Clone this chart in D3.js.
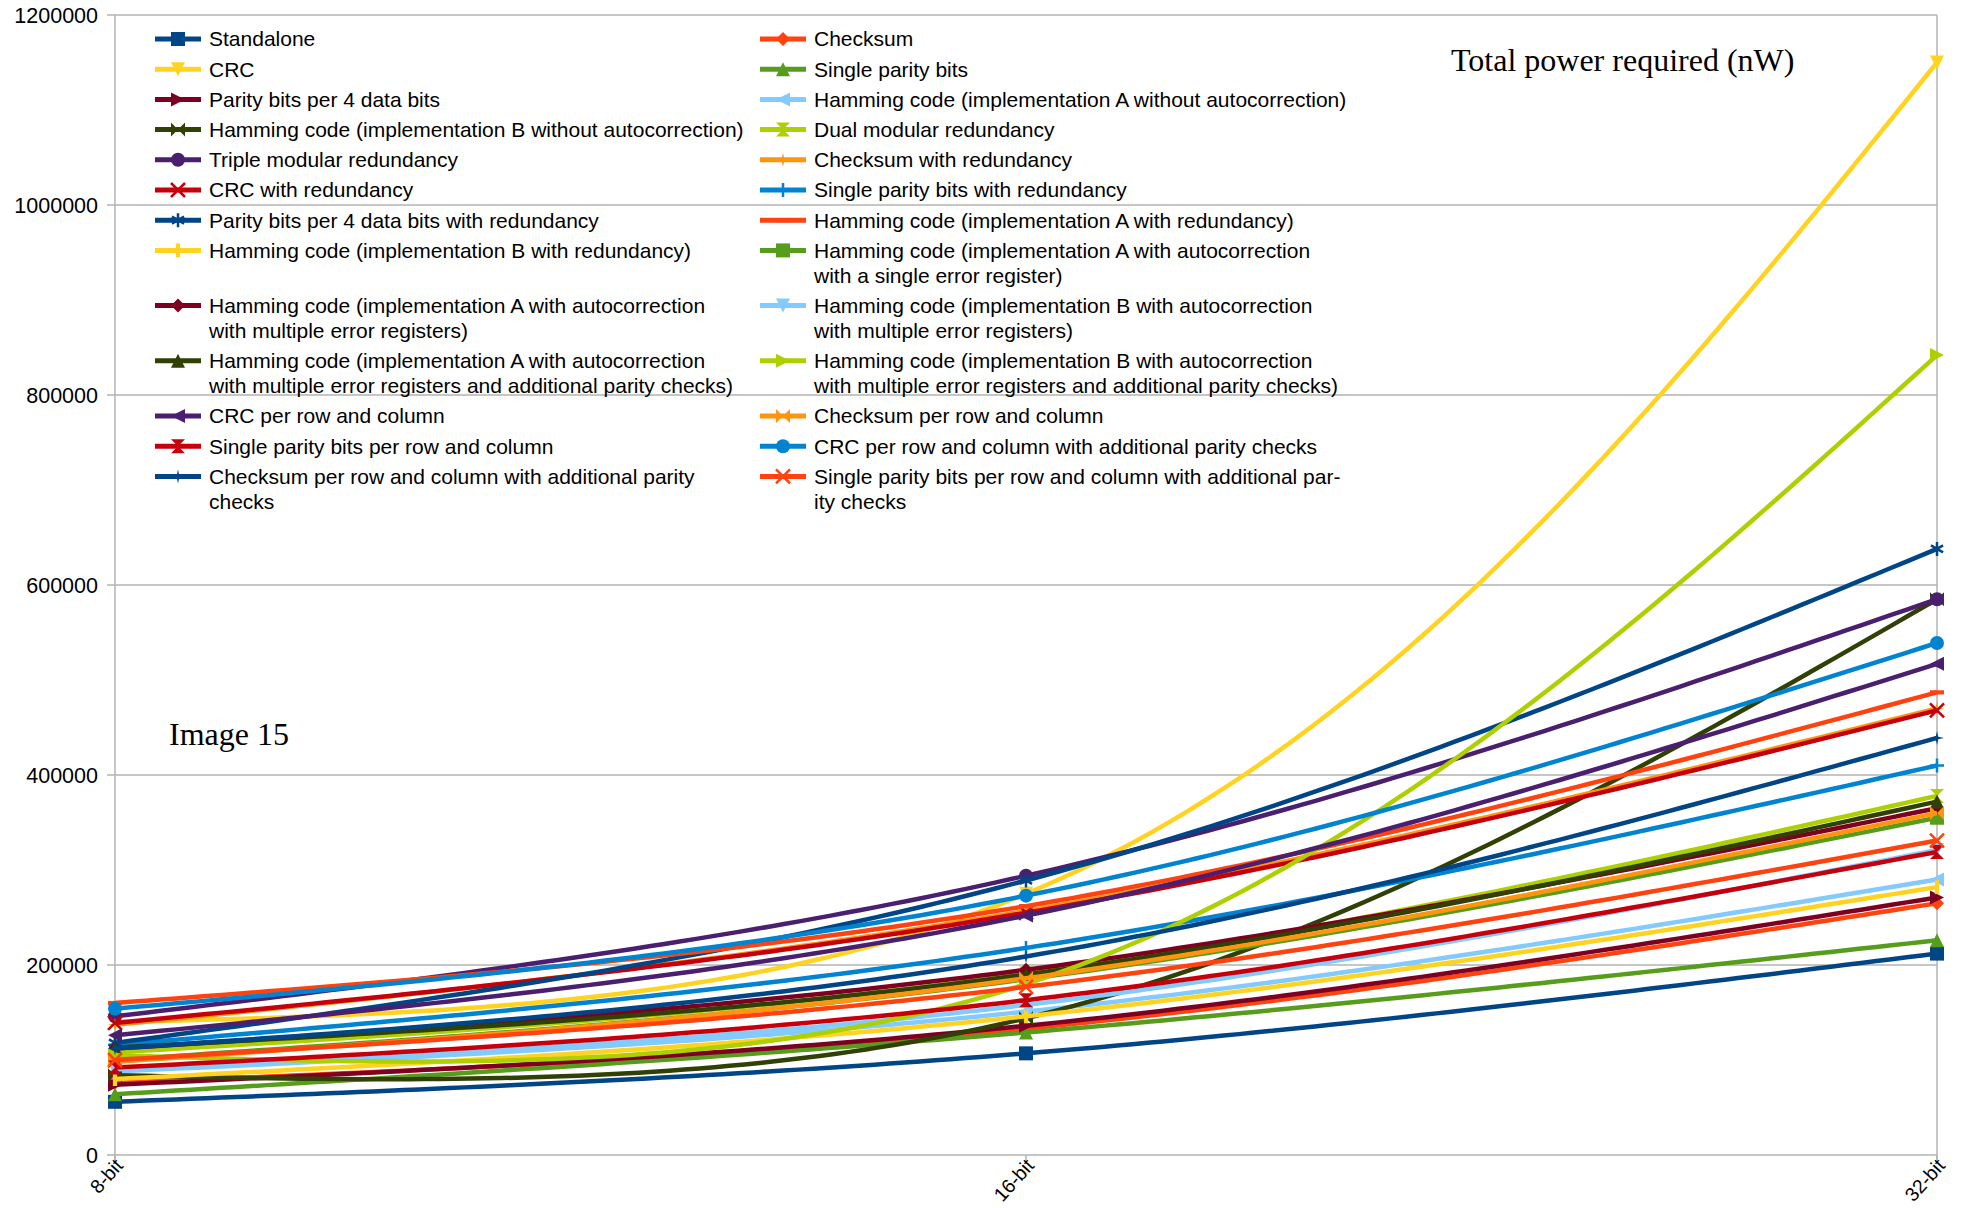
<!DOCTYPE html>
<html>
<head>
<meta charset="utf-8">
<script src="https://cdn.jsdelivr.net/npm/d3@7"></script>
<style>
    body { margin: 0; background: #fff; }
    svg { display: block; }
</style>
</head>
<body>
<div id="chart"></div>
<script>
// Total power required (nW) per data width, one line per protection scheme

const categories = ['8-bit', '16-bit', '32-bit'];
const yTicks = [0, 200000, 400000, 600000, 800000, 1000000, 1200000];

const seriesNames = [
    'Standalone',
    'Checksum',
    'CRC',
    'Single parity bits',
    'Parity bits per 4 data bits',
    'Hamming code (implementation A without autocorrection)',
    'Hamming code (implementation B without autocorrection)',
    'Dual modular redundancy',
    'Triple modular redundancy',
    'Checksum with redundancy',
    'CRC with redundancy',
    'Single parity bits with redundancy',
    'Parity bits per 4 data bits with redundancy',
    'Hamming code (implementation A with redundancy)',
    'Hamming code (implementation B with redundancy)',
    'Hamming code (implementation A with autocorrection\nwith a single error register)',
    'Hamming code (implementation A with autocorrection\nwith multiple error registers)',
    'Hamming code (implementation B with autocorrection\nwith multiple error registers)',
    'Hamming code (implementation A with autocorrection\nwith multiple error registers and additional parity checks)',
    'Hamming code (implementation B with autocorrection\nwith multiple error registers and additional parity checks)',
    'CRC per row and column',
    'Checksum per row and column',
    'Single parity bits per row and column',
    'CRC per row and column with additional parity checks',
    'Checksum per row and column with additional parity\nchecks',
    'Single parity bits per row and column with additional par-\nity checks'
];

// values for 8-bit, 16-bit, 32-bit
const seriesValues = [
    [56000, 107000, 212000],
    [76000, 133000, 265000],
    [140000, 275000, 1150000],
    [64000, 129000, 226000],
    [74000, 136000, 271000],
    [88000, 151000, 290000],
    [84000, 144000, 585000],
    [108000, 191000, 378000],
    [146000, 294000, 585000],
    [137000, 257000, 470000],
    [139000, 255000, 468000],
    [116000, 218000, 410000],
    [118000, 289000, 638000],
    [160000, 262000, 487000],
    [80000, 146000, 282000],
    [100000, 185000, 355000],
    [112000, 195000, 365000],
    [90000, 158000, 321000],
    [113000, 190000, 372000],
    [105000, 180000, 842000],
    [126000, 252000, 517000],
    [98000, 186000, 360000],
    [92000, 163000, 319000],
    [154000, 273000, 539000],
    [112000, 209000, 439000],
    [100000, 177000, 331000]
];

// LibreOffice default palette and symbol order, both cycle
const palette = ['#004586', '#ff420e', '#ffd320', '#579d1c', '#7e0021', '#83caff',
    '#314004', '#aecf00', '#4b1f6f', '#ff950e', '#c5000b', '#0084d1'];
const symbolOrder = ['square', 'diamond', 'down', 'up', 'right', 'left', 'bowtie',
    'hourglass', 'circle', 'star', 'x', 'plus', 'asterisk', 'hbar', 'vbar'];

const width = 1966;
const height = 1208;
const margin = { left: 115, right: 29, top: 15, bottom: 53 };

const svg = d3.select('#chart')
    .append('svg')
    .attr('width', width)
    .attr('height', height);

const xScale = d3.scalePoint()
    .domain(categories)
    .range([margin.left, width - margin.right])
    .padding(0);

const yScale = d3.scaleLinear()
    .domain([0, 1200000])
    .range([height - margin.bottom, margin.top]);

const gridColor = '#b3b3b3';
const plotBottom = height - margin.bottom;
const plotRight = width - margin.right;

// Horizontal gridlines
svg.selectAll('.grid-line')
    .data(yTicks)
    .enter()
    .append('line')
    .attr('class', 'grid-line')
    .attr('x1', margin.left - 8)
    .attr('x2', plotRight)
    .attr('y1', d => yScale(d))
    .attr('y2', d => yScale(d))
    .attr('stroke', gridColor)
    .attr('stroke-width', 1.5);

// Left axis and right border
svg.append('line')
    .attr('x1', margin.left).attr('x2', margin.left)
    .attr('y1', margin.top).attr('y2', plotBottom + 8)
    .attr('stroke', gridColor).attr('stroke-width', 1.5);
svg.append('line')
    .attr('x1', plotRight).attr('x2', plotRight)
    .attr('y1', margin.top).attr('y2', plotBottom + 8)
    .attr('stroke', gridColor).attr('stroke-width', 1.5);

// Category ticks
svg.selectAll('.cat-tick')
    .data(categories)
    .enter()
    .append('line')
    .attr('class', 'cat-tick')
    .attr('x1', d => xScale(d))
    .attr('x2', d => xScale(d))
    .attr('y1', plotBottom)
    .attr('y2', plotBottom + 8)
    .attr('stroke', gridColor)
    .attr('stroke-width', 1.5);

// Y tick labels
svg.selectAll('.y-label')
    .data(yTicks)
    .enter()
    .append('text')
    .attr('class', 'y-label')
    .attr('x', margin.left - 17)
    .attr('y', d => yScale(d))
    .attr('dy', '0.35em')
    .attr('text-anchor', 'end')
    .attr('font-family', 'Liberation Sans, Arial, sans-serif')
    .attr('font-size', '21.5px')
    .attr('fill', '#000')
    .text(d => d3.format('d')(d));

// Category labels, rotated
svg.selectAll('.x-label')
    .data(categories)
    .enter()
    .append('text')
    .attr('class', 'x-label')
    .attr('transform', d => `translate(${xScale(d) + 4},${plotBottom + 7}) rotate(-48)`)
    .attr('text-anchor', 'end')
    .attr('dy', '0.35em')
    .attr('font-family', 'Liberation Sans, Arial, sans-serif')
    .attr('font-size', '19.5px')
    .attr('fill', '#000')
    .text(d => d);

// Marker shapes
function symbolPath(type, r) {
    const k = r * 0.3;
    switch (type) {
        case 'square': return `M${-r},${-r}H${r}V${r}H${-r}Z`;
        case 'diamond': return `M0,${-r}L${r},0L0,${r}L${-r},0Z`;
        case 'down': return `M${-r},${-r}L${r},${-r}L0,${r}Z`;
        case 'up': return `M${-r},${r}L${r},${r}L0,${-r}Z`;
        case 'right': return `M${-r},${-r}L${r},0L${-r},${r}Z`;
        case 'left': return `M${r},${-r}L${-r},0L${r},${r}Z`;
        case 'bowtie': return `M${-r},${-r}L0,0L${-r},${r}ZM${r},${-r}L0,0L${r},${r}Z`;
        case 'hourglass': return `M${-r},${-r}L${r},${-r}L0,0ZM${-r},${r}L${r},${r}L0,0Z`;
        case 'circle': return `M${r},0A${r},${r} 0 1,1 ${-r},0A${r},${r} 0 1,1 ${r},0Z`;
        case 'star': return `M0,${-r}L${k * 0.6},${-k * 0.6}L${r},0L${k * 0.6},${k * 0.6}L0,${r}L${-k * 0.6},${k * 0.6}L${-r},0L${-k * 0.6},${-k * 0.6}Z`;
        case 'x': return `M${-r},${-r}L${r},${r}M${r},${-r}L${-r},${r}`;
        case 'plus': return `M${-r},0H${r}M0,${-r}V${r}`;
        case 'asterisk': {
            const c = r * Math.cos(Math.PI / 6), s = r * Math.sin(Math.PI / 6);
            return `M0,${-r}V${r}M${-c},${-s}L${c},${s}M${-c},${s}L${c},${-s}`;
        }
        case 'hbar': return `M${-r},${-k}H${r}V${k}H${-r}Z`;
        case 'vbar': return `M${-k},${-r}H${k}V${r}H${-k}Z`;
    }
    return '';
}
const strokedSymbols = new Set(['x', 'plus', 'asterisk']);

function drawMarker(g, type, color, x, y, r) {
    const stroked = strokedSymbols.has(type);
    g.append('path')
        .attr('transform', `translate(${x},${y})`)
        .attr('d', symbolPath(type, r))
        .attr('fill', stroked ? 'none' : color)
        .attr('stroke', stroked ? color : 'none')
        .attr('stroke-width', stroked ? 2.5 : 0);
}

// Parametric natural cubic spline, parameter = chord length between the
// projected points (this is how the office suite smooths its lines)
function splinePoints(pts, steps) {
    const n = pts.length;
    const t = [0];
    for (let i = 1; i < n; i++) {
        t.push(t[i - 1] + Math.hypot(pts[i][0] - pts[i - 1][0], pts[i][1] - pts[i - 1][1]));
    }
    const h = d3.range(n - 1).map(i => t[i + 1] - t[i]);

    function secondDerivs(c) {
        const M = new Array(n).fill(0);
        if (n < 3) return M;
        const m = n - 2;
        const a = [], b = [], cc = [], d = [];
        for (let i = 1; i <= m; i++) {
            a.push(h[i - 1]);
            b.push(2 * (h[i - 1] + h[i]));
            cc.push(h[i]);
            d.push(6 * ((c[i + 1] - c[i]) / h[i] - (c[i] - c[i - 1]) / h[i - 1]));
        }
        // Thomas algorithm
        for (let i = 1; i < m; i++) {
            const w = a[i] / b[i - 1];
            b[i] -= w * cc[i - 1];
            d[i] -= w * d[i - 1];
        }
        const sol = new Array(m);
        sol[m - 1] = d[m - 1] / b[m - 1];
        for (let i = m - 2; i >= 0; i--) sol[i] = (d[i] - cc[i] * sol[i + 1]) / b[i];
        for (let i = 0; i < m; i++) M[i + 1] = sol[i];
        return M;
    }

    const xs = pts.map(p => p[0]);
    const ys = pts.map(p => p[1]);
    const Mx = secondDerivs(xs);
    const My = secondDerivs(ys);

    function evalSeg(c, M, i, s) {
        const hi = h[i];
        return M[i] * Math.pow(hi - s, 3) / (6 * hi) + M[i + 1] * Math.pow(s, 3) / (6 * hi)
            + (c[i] / hi - M[i] * hi / 6) * (hi - s) + (c[i + 1] / hi - M[i + 1] * hi / 6) * s;
    }

    const out = [pts[0]];
    for (let i = 0; i < n - 1; i++) {
        for (let k = 1; k <= steps; k++) {
            const s = h[i] * k / steps;
            out.push([evalSeg(xs, Mx, i, s), evalSeg(ys, My, i, s)]);
        }
    }
    return out;
}

// Build series table
const series = seriesNames.map((name, i) => ({
    name: name,
    lines: name.split('\n'),
    values: seriesValues[i],
    color: palette[i % palette.length],
    symbol: symbolOrder[i % symbolOrder.length]
}));

const line = d3.line();

// Lines first, markers on top of each series
const plot = svg.append('g').attr('class', 'plot');
series.forEach(s => {
    const g = plot.append('g');
    const pts = s.values.map((v, i) => [xScale(categories[i]), yScale(v)]);
    g.append('path')
        .attr('d', line(splinePoints(pts, 60)))
        .attr('fill', 'none')
        .attr('stroke', s.color)
        .attr('stroke-width', 4.5)
        .attr('stroke-linejoin', 'round');
    pts.forEach(p => {
        drawMarker(g, s.symbol, s.color, p[0], p[1], 7);
    });
});

// Legend: two columns, filled row by row
const legendCols = [{ lineX: 155, textX: 209 }, { lineX: 760, textX: 814 }];
const rowStep = 30.2;
const lineStep = 25;
const legend = svg.append('g').attr('class', 'legend');
let rowY = 39;
for (let r = 0; r < Math.ceil(series.length / 2); r++) {
    const pair = series.slice(r * 2, r * 2 + 2);
    pair.forEach((s, c) => {
        const col = legendCols[c];
        legend.append('line')
            .attr('x1', col.lineX).attr('x2', col.lineX + 46)
            .attr('y1', rowY).attr('y2', rowY)
            .attr('stroke', s.color)
            .attr('stroke-width', 5);
        drawMarker(legend, s.symbol, s.color, col.lineX + 23, rowY, 7);
        const t = legend.append('text')
            .attr('x', col.textX)
            .attr('y', rowY)
            .attr('font-family', 'Liberation Sans, Arial, sans-serif')
            .attr('font-size', '21px')
            .attr('fill', '#000');
        s.lines.forEach((ln, k) => {
            t.append('tspan')
                .attr('x', col.textX)
                .attr('y', rowY + k * lineStep)
                .attr('dy', '0.35em')
                .text(ln);
        });
    });
    const maxLines = d3.max(pair, s => s.lines.length);
    rowY += rowStep + (maxLines - 1) * lineStep;
}

// Free text annotations
svg.append('text')
    .attr('x', 1451)
    .attr('y', 71)
    .attr('font-family', 'Liberation Serif, Times New Roman, serif')
    .attr('font-size', '32px')
    .attr('fill', '#000')
    .text('Total power required (nW)');

svg.append('text')
    .attr('x', 169)
    .attr('y', 745)
    .attr('font-family', 'Liberation Serif, Times New Roman, serif')
    .attr('font-size', '32px')
    .attr('fill', '#000')
    .text('Image 15');
</script>
</body>
</html>
